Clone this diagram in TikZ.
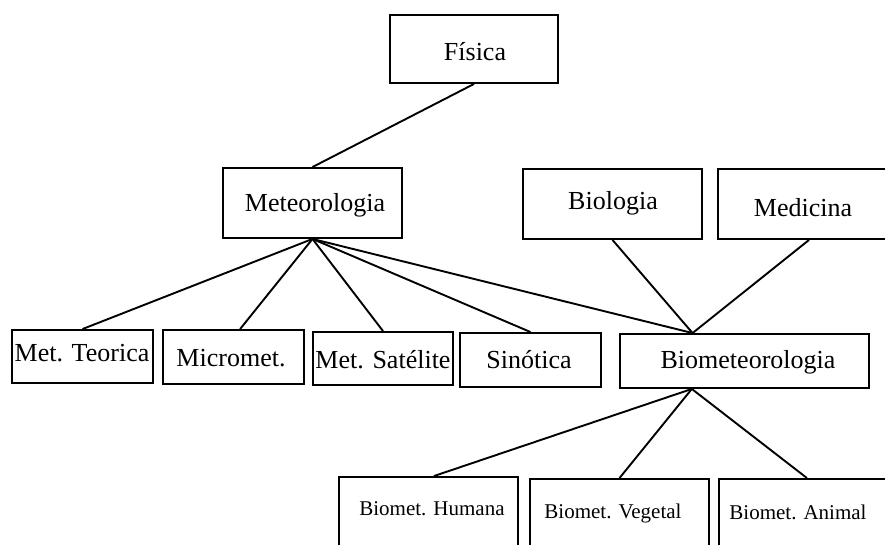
\documentclass[tikz,border=0pt]{standalone}
\usepackage{fontspec}
\setmainfont{Liberation Serif}
\usetikzlibrary{calc}
\begin{document}
\begin{tikzpicture}[x=1pt,y=-1pt,
  box/.style={draw, line width=1.9pt, rectangle, inner sep=0pt},
  big/.style={font=\fontsize{26}{30}\selectfont, inner sep=0pt},
  small/.style={font=\fontsize{21}{25}\selectfont, inner sep=0pt},
  link/.style={line width=1.9pt}]
\path[use as bounding box] (0,0) rectangle (885,545);
\clip (0,0) rectangle (885,545);
\fill[white] (0,0) rectangle (885,545);
% boxes
\node[box, minimum width=168pt, minimum height=68pt] (fis) at (474,49) {};
\node[box, minimum width=179pt, minimum height=70pt] (met) at (312.5,203) {};
\node[box, minimum width=179pt, minimum height=70pt] (bio) at (612.5,204) {};
\node[box, minimum width=182pt, minimum height=70pt] (med) at (809,204) {};
\node[box, minimum width=141pt, minimum height=53pt] (teo) at (82.5,356.5) {};
\node[box, minimum width=141pt, minimum height=54pt] (mic) at (233.5,357) {};
\node[box, minimum width=140pt, minimum height=53pt] (sat) at (383,358.5) {};
\node[box, minimum width=141pt, minimum height=54pt] (sin) at (530.5,360) {};
\node[box, minimum width=249pt, minimum height=54pt] (bmt) at (744.5,361) {};
\node[box, minimum width=179pt, minimum height=80pt] (hum) at (428.5,517) {};
\node[box, minimum width=179pt, minimum height=80pt] (veg) at (619.5,519) {};
\node[box, minimum width=181pt, minimum height=80pt] (ani) at (809.5,519) {};
% texts
\node[big] (fisT) at (475,52) {Física};
\node[big] (metT) at (315,205) {Meteorologia};
\node[big] (bioT) at (613,203) {Biologia};
\node[big] (medT) at (803,208) {Medicina};
\node[big] (teoT) at (82,353) {Met. Teorica};
\node[big] (micT) at (231,358) {Micromet.};
\node[big] (satT) at (383,360) {Met. Satélite};
\node[big] (sinT) at (529,360) {Sinótica};
\node[big] (bmtT) at (748,362) {Biometeorologia};
\node[small] (humT) at (432,509) {Biomet. Humana};
\node[small] (vegT) at (613,513) {Biomet. Vegetal};
\node[small] (aniT) at (798,512) {Biomet. Animal};
% connectors
\draw[link] (fis.south) -- (met.north);
\draw[link] (met.south) -- (teo.north);
\draw[link] (met.south) -- ($(mic.north west)!0.546!(mic.north east)$);
\draw[link] (met.south) -- (sat.north);
\draw[link] (met.south) -- (sin.north);
\draw[link] (met.south) -- ($(bmt.north west)!0.293!(bmt.north east)$);
\draw[link] (bio.south) -- ($(bmt.north west)!0.293!(bmt.north east)$);
\draw[link] (med.south) -- ($(bmt.north west)!0.293!(bmt.north east)$);
\draw[link] ($(bmt.south west)!0.29!(bmt.south east)$) -- ($(hum.north west)!0.53!(hum.north east)$);
\draw[link] ($(bmt.south west)!0.29!(bmt.south east)$) -- (veg.north);
\draw[link] ($(bmt.south west)!0.29!(bmt.south east)$) -- ($(ani.north west)!0.486!(ani.north east)$);
\end{tikzpicture}
\end{document}
